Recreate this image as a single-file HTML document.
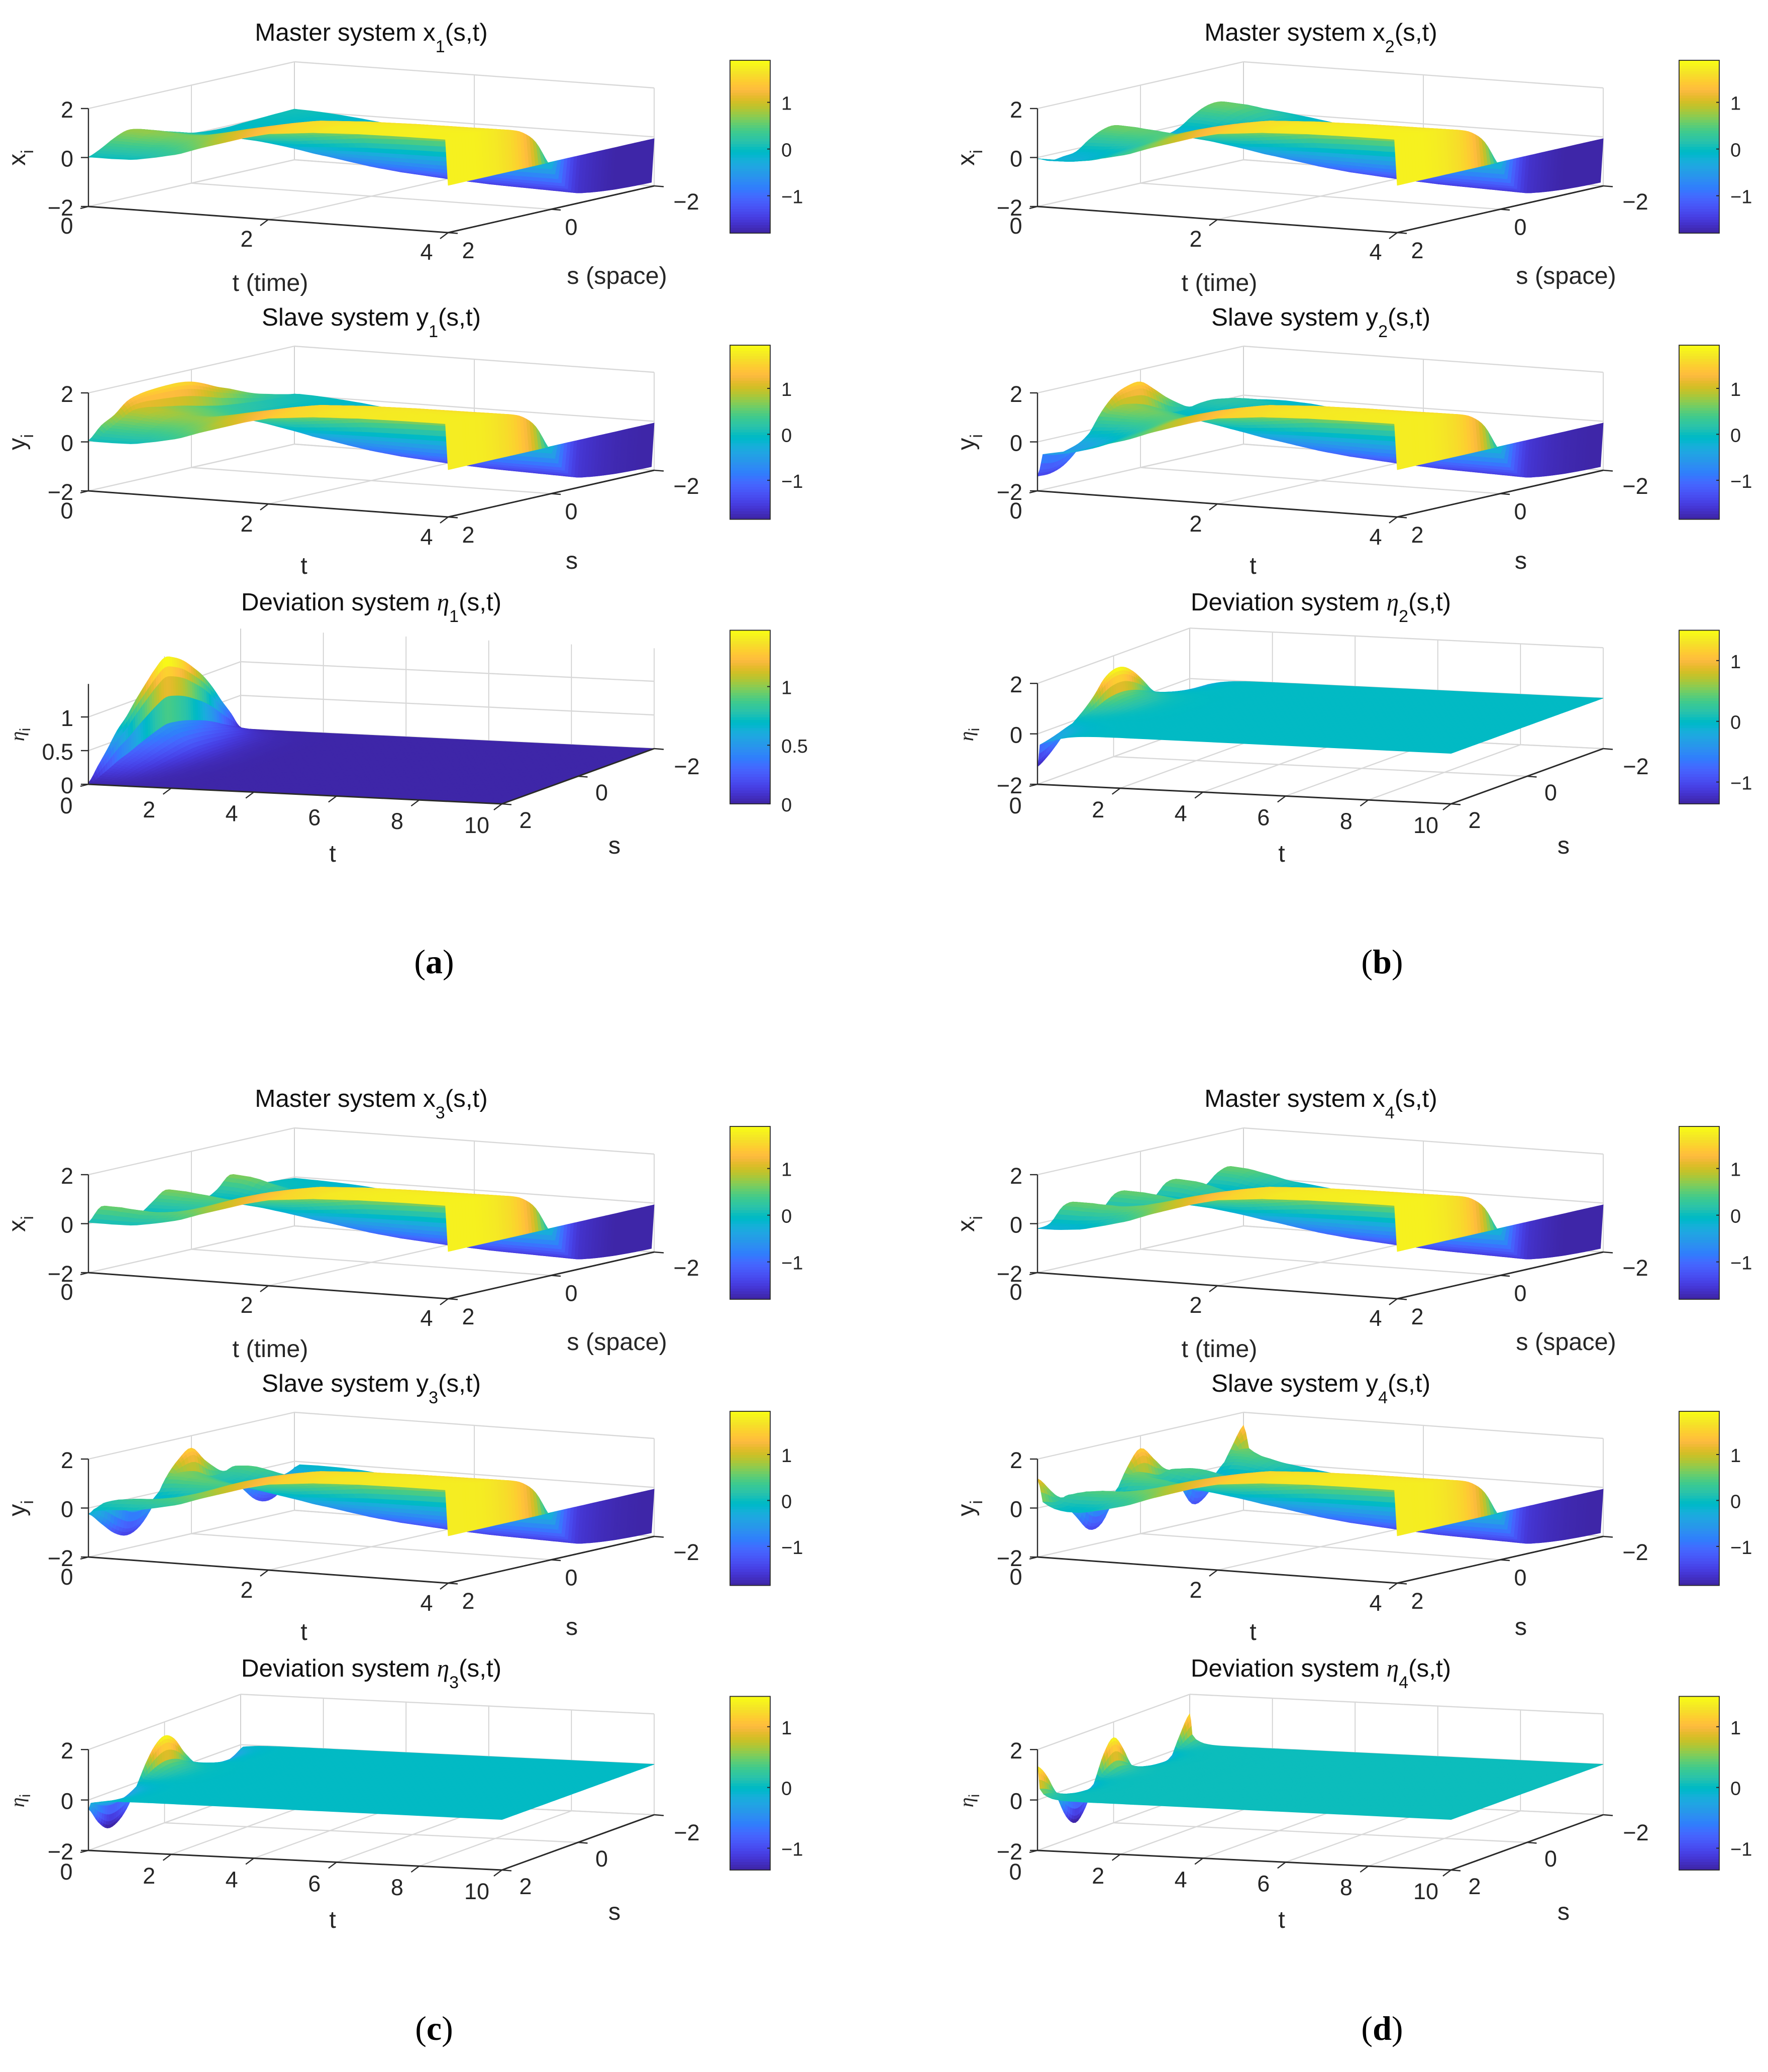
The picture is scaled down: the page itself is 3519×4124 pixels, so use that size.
<!DOCTYPE html>
<html lang="en">
<head>
<meta charset="utf-8">
<title>Master, slave and deviation system surfaces</title>
<style>
html,body{margin:0;padding:0;background:#fff;}
svg{display:block;}
text{font-family:"Liberation Sans",Arial,sans-serif;fill:#262626;}
.title{font-size:49.4px;fill:#111;text-anchor:middle;}
.lab{font-size:48.5px;text-anchor:middle;}
.eta{font-family:"Liberation Serif",serif;font-style:italic;}
.cap{font-family:"Liberation Serif",serif;font-size:68px;fill:#000;text-anchor:middle;}
.cap tspan{font-weight:bold;}
</style>
</head>
<body>
<svg id="figure" xmlns="http://www.w3.org/2000/svg" width="3519" height="4124" viewBox="0 0 3519 4124">
<rect x="0" y="0" width="3519" height="4124" fill="#fff"/>

<!-- (a) -->
<g id="x1" transform="translate(0,0)">
<text class="title" x="739" y="81">Master system x<tspan font-size="34" dy="23">1</tspan><tspan dy="-23">(s,t)</tspan></text>
<text class="lab" x="538" y="579">t (time)</text>
<text class="lab" x="1228" y="565">s (space)</text>
<text class="lab" transform="translate(50,314) rotate(-90)">x<tspan font-size="34" dy="16">i</tspan></text>
</g>
<g id="y1" transform="translate(0,0)">
<text class="title" x="739" y="648">Slave system y<tspan font-size="34" dy="23">1</tspan><tspan dy="-23">(s,t)</tspan></text>
<text class="lab" x="605" y="1142">t</text>
<text class="lab" x="1138" y="1132">s</text>
<text class="lab" transform="translate(50,880) rotate(-90)">y<tspan font-size="34" dy="16">i</tspan></text>
</g>
<g id="e1" transform="translate(0,0)">
<text class="title" x="739" y="1215">Deviation system <tspan class="eta">η</tspan><tspan font-size="34" dy="23">1</tspan><tspan dy="-23">(s,t)</tspan></text>
<text class="lab" x="662" y="1715">t</text>
<text class="lab" x="1223" y="1699">s</text>
<text class="lab" transform="translate(48,1462) rotate(-90)"><tspan class="eta" font-size="40">η</tspan><tspan font-size="30" dy="12">i</tspan></text>
</g>
<text class="cap" x="864" y="1937">(<tspan>a</tspan>)</text>

<!-- (b) -->
<g id="x2" transform="translate(1889,0)">
<text class="title" x="740" y="81">Master system x<tspan font-size="34" dy="23">2</tspan><tspan dy="-23">(s,t)</tspan></text>
<text class="lab" x="538" y="579">t (time)</text>
<text class="lab" x="1228" y="565">s (space)</text>
<text class="lab" transform="translate(50,314) rotate(-90)">x<tspan font-size="34" dy="16">i</tspan></text>
</g>
<g id="y2" transform="translate(1889,0)">
<text class="title" x="740" y="648">Slave system y<tspan font-size="34" dy="23">2</tspan><tspan dy="-23">(s,t)</tspan></text>
<text class="lab" x="605" y="1142">t</text>
<text class="lab" x="1138" y="1132">s</text>
<text class="lab" transform="translate(50,880) rotate(-90)">y<tspan font-size="34" dy="16">i</tspan></text>
</g>
<g id="e2" transform="translate(1889,0)">
<text class="title" x="740" y="1215">Deviation system <tspan class="eta">η</tspan><tspan font-size="34" dy="23">2</tspan><tspan dy="-23">(s,t)</tspan></text>
<text class="lab" x="662" y="1715">t</text>
<text class="lab" x="1223" y="1699">s</text>
<text class="lab" transform="translate(48,1462) rotate(-90)"><tspan class="eta" font-size="40">η</tspan><tspan font-size="30" dy="12">i</tspan></text>
</g>
<text class="cap" x="2751" y="1937">(<tspan>b</tspan>)</text>

<!-- (c) -->
<g id="x3" transform="translate(0,2122)">
<text class="title" x="739" y="81">Master system x<tspan font-size="34" dy="23">3</tspan><tspan dy="-23">(s,t)</tspan></text>
<text class="lab" x="538" y="579">t (time)</text>
<text class="lab" x="1228" y="565">s (space)</text>
<text class="lab" transform="translate(50,314) rotate(-90)">x<tspan font-size="34" dy="16">i</tspan></text>
</g>
<g id="y3" transform="translate(0,2122)">
<text class="title" x="739" y="648">Slave system y<tspan font-size="34" dy="23">3</tspan><tspan dy="-23">(s,t)</tspan></text>
<text class="lab" x="605" y="1142">t</text>
<text class="lab" x="1138" y="1132">s</text>
<text class="lab" transform="translate(50,880) rotate(-90)">y<tspan font-size="34" dy="16">i</tspan></text>
</g>
<g id="e3" transform="translate(0,2122)">
<text class="title" x="739" y="1215">Deviation system <tspan class="eta">η</tspan><tspan font-size="34" dy="23">3</tspan><tspan dy="-23">(s,t)</tspan></text>
<text class="lab" x="662" y="1715">t</text>
<text class="lab" x="1223" y="1699">s</text>
<text class="lab" transform="translate(48,1462) rotate(-90)"><tspan class="eta" font-size="40">η</tspan><tspan font-size="30" dy="12">i</tspan></text>
</g>
<text class="cap" x="864" y="4060">(<tspan>c</tspan>)</text>

<!-- (d) -->
<g id="x4" transform="translate(1889,2122)">
<text class="title" x="740" y="81">Master system x<tspan font-size="34" dy="23">4</tspan><tspan dy="-23">(s,t)</tspan></text>
<text class="lab" x="538" y="579">t (time)</text>
<text class="lab" x="1228" y="565">s (space)</text>
<text class="lab" transform="translate(50,314) rotate(-90)">x<tspan font-size="34" dy="16">i</tspan></text>
</g>
<g id="y4" transform="translate(1889,2122)">
<text class="title" x="740" y="648">Slave system y<tspan font-size="34" dy="23">4</tspan><tspan dy="-23">(s,t)</tspan></text>
<text class="lab" x="605" y="1142">t</text>
<text class="lab" x="1138" y="1132">s</text>
<text class="lab" transform="translate(50,880) rotate(-90)">y<tspan font-size="34" dy="16">i</tspan></text>
</g>
<g id="e4" transform="translate(1889,2122)">
<text class="title" x="740" y="1215">Deviation system <tspan class="eta">η</tspan><tspan font-size="34" dy="23">4</tspan><tspan dy="-23">(s,t)</tspan></text>
<text class="lab" x="662" y="1715">t</text>
<text class="lab" x="1223" y="1699">s</text>
<text class="lab" transform="translate(48,1462) rotate(-90)"><tspan class="eta" font-size="40">η</tspan><tspan font-size="30" dy="12">i</tspan></text>
</g>
<text class="cap" x="2751" y="4060">(<tspan>d</tspan>)</text>
</svg>

<script>
/* ---------- data ---------- */
const sGrid = [-2,-1.75,-1.5,-1.25,-1,-0.75,-0.5,-0.25,0,0.25,0.5,0.75,1,1.25,1.5,1.75,2];

const baseTimes = [0,0.25,0.5,0.75,1,1.25,1.5,1.75,2,2.5,3,3.5,3.97,4];
const baseRow000 = [0,0,0,0,0,0,0,0,0,0,0,0,0,0,0,0,0];
const baseRow025 = [-0.03,-0.03,-0.03,-0.03,-0.03,-0.03,-0.03,-0.03,-0.01,0,0,0.02,0.03,0.03,0.02,0.01,0];
const baseRow050 = [-0.08,-0.1,-0.12,-0.14,-0.15,-0.15,-0.14,-0.1,-0.04,0.03,0.08,0.12,0.15,0.14,0.12,0.08,0.03];
const baseRow075 = [-0.15,-0.18,-0.22,-0.27,-0.3,-0.3,-0.28,-0.22,-0.1,0.07,0.2,0.32,0.4,0.4,0.35,0.28,0.2];
const baseRow100 = [-0.25,-0.3,-0.38,-0.45,-0.5,-0.5,-0.48,-0.4,-0.2,0.15,0.4,0.6,0.72,0.72,0.65,0.55,0.4];
const baseRow125 = [-0.42,-0.5,-0.6,-0.68,-0.75,-0.75,-0.72,-0.6,-0.28,0.25,0.6,0.88,1.0,1.02,0.98,0.88,0.72];
const baseRow150 = [-0.65,-0.72,-0.85,-0.95,-1.0,-1.0,-0.95,-0.72,-0.25,0.4,0.8,1.08,1.22,1.26,1.22,1.12,1.0];
const baseRow175 = [-0.9,-1.0,-1.1,-1.2,-1.25,-1.22,-1.12,-0.82,-0.22,0.52,0.95,1.25,1.4,1.45,1.42,1.34,1.28];
const baseRow200 = [-1.15,-1.25,-1.32,-1.4,-1.42,-1.38,-1.22,-0.88,-0.2,0.65,1.08,1.38,1.55,1.6,1.58,1.54,1.5];
const baseRow250 = [-1.5,-1.55,-1.6,-1.62,-1.6,-1.52,-1.35,-0.96,-0.18,0.75,1.22,1.48,1.65,1.7,1.72,1.72,1.68];
const baseRow300 = [-1.72,-1.74,-1.74,-1.72,-1.68,-1.6,-1.45,-1.0,-0.17,0.8,1.3,1.54,1.68,1.75,1.77,1.77,1.76];
const baseRow350 = [-1.82,-1.82,-1.8,-1.77,-1.72,-1.65,-1.5,-1.03,-0.16,0.83,1.33,1.56,1.69,1.76,1.79,1.79,1.79];
const baseRow397 = [-1.86,-1.85,-1.83,-1.8,-1.75,-1.68,-1.55,-1.05,-0.15,0.85,1.35,1.58,1.7,1.77,1.8,1.8,1.8];
const baseRow400 = [-0.07,-0.07,-0.07,-0.07,-0.07,-0.07,-0.07,-0.07,-0.07,-0.07,-0.07,-0.07,-0.07,-0.07,-0.07,-0.07,-0.07];

const masterDecayTimes = [0,0.2,0.4,0.6,0.8,1,1.25,1.5,10];
const masterDecayValues = [1,0.95,0.75,0.5,0.3,0.15,0.05,0,0];
const deviationDecayTimes = [0,0.012,0.025,0.04,0.06,0.15,0.3,0.5,0.75,1,1.25,1.5,2,2.5,10];
const deviationDecayMode1 = [1,0.9,0.8,0.6,0.33,0.3,0.26,0.19,0.11,0.065,0.035,0.018,0.004,0,0];
const deviationDecayMode2 = [1,0.9,0.8,0.6,0.33,0.28,0.21,0.13,0.065,0.03,0.014,0.005,0,0,0];
const deviationDecayMode3 = [1,0.9,0.8,0.6,0.33,0.25,0.15,0.075,0.03,0.01,0.003,0,0,0,0];
const deviationDecayMode4 = [1,0.9,0.8,0.6,0.33,0.18,0.07,0.025,0.007,0.002,0,0,0,0,0];

const x1Initial = [0.07,0.05,0.03,0,-0.02,-0.05,-0.05,-0.02,0.05,0.2,0.35,0.5,0.68,0.75,0.55,0.25,0.02];
const x2Initial = [0.19,0.45,0.6,0.52,0.25,-0.1,-0.25,-0.1,0.12,0.38,0.6,0.52,0.25,-0.12,-0.2,-0.25,-0.05];
const x3Initial = [-0.05,0,0.03,0.1,0.42,0.68,0.2,-0.06,0.08,0.42,0.66,0.3,-0.06,-0.04,0.32,0.58,0.05];
const x4Initial = [0.1,0.55,0.42,0,0.05,0.5,0.48,-0.02,0.02,0.5,0.5,0,0.02,0.52,0.48,-0.1,-0.2];

const y1Initial = [0.05,0.15,0.28,0.42,0.62,0.85,1.05,1.3,1.5,1.58,1.58,1.55,1.48,1.3,0.85,0.55,0.05];
const y2Initial = [-0.9,-1.05,-0.85,-0.5,-0.1,0.25,0.63,1.1,1.5,1.45,1.2,0.65,-0.15,-0.75,-1.2,-1.4,-1.4];
const y3Initial = [-0.25,-1.05,-1.35,-1.2,-0.65,-0.05,0.4,0.9,1.5,1.15,0.5,-0.5,-1.2,-1.46,-1.25,-0.75,-0.24];
const y4Initial = [1.47,0.6,-0.35,-1.1,-1.25,-0.35,0.3,0.95,1.48,0.85,-0.2,-1.2,-1.35,-0.7,-0.02,0.6,1.2];

const eta1Initial = [0.02,0.28,0.52,0.78,1.0,1.17,1.32,1.42,1.47,1.35,1.18,1.0,0.8,0.64,0.42,0.22,0.02];
const eta2Initial = [-1.3,-1.15,-0.85,-0.4,0.1,0.65,1.12,1.42,1.45,1.22,0.72,0.32,0,-0.3,-0.7,-1.05,-1.3];
const eta3Initial = [-0.25,-0.95,-1.35,-1.4,-1.1,-0.05,0.55,1.2,1.45,1.2,0.6,-0.2,-0.9,-1.3,-1.39,-1.0,-0.36];
const eta4Initial = [1.23,0.55,-0.3,-1.1,-1.4,-1.05,-0.2,0.8,1.38,0.9,-0.1,-1.0,-1.44,-1.05,-0.1,0.8,1.33];

const zTicksWide = [-2,0,2];
const zTicksEta1 = [0,0.5,1];
const tTicksMasterSlave = [0,2,4];
const tTicksDeviation = [0,2,4,6,8,10];
const sTicks = [-2,0,2];
const colorbarTicksWide = [-1,0,1];
const colorbarTicksEta1 = [0,0.5,1];

const baseSurface = [baseRow000,baseRow025,baseRow050,baseRow075,baseRow100,baseRow125,baseRow150,baseRow175,baseRow200,baseRow250,baseRow300,baseRow350,baseRow397,baseRow400];

const parula = [[.2422,.1504,.6603],[.2504,.165,.7076],[.2578,.1818,.7511],[.2647,.1978,.7952],[.2706,.2147,.8364],[.2751,.2342,.871],[.2783,.2559,.8991],[.2803,.2782,.9221],[.2813,.3006,.9414],[.281,.3228,.9579],[.2795,.3447,.9717],[.276,.3667,.9829],[.2699,.3892,.9906],[.2602,.4123,.9952],[.244,.4358,.9988],[.2206,.4603,.9973],[.1963,.4847,.9892],[.1834,.5074,.9798],[.1786,.5289,.9682],[.1764,.5499,.952],[.1687,.5703,.9359],[.154,.5902,.9218],[.146,.6091,.9079],[.138,.6276,.8973],[.1248,.6459,.8883],[.1113,.6635,.8763],[.0952,.6798,.8598],[.0689,.6948,.8394],[.0297,.7082,.8163],[.0036,.7203,.7917],[.0067,.7312,.766],[.0433,.7411,.7394],[.0964,.75,.712],[.1408,.7584,.6842],[.1717,.767,.6554],[.1938,.7758,.6251],[.2161,.7843,.5923],[.247,.7918,.5567],[.2906,.7973,.5188],[.3406,.8008,.4789],[.3909,.8029,.4354],[.4456,.8024,.3909],[.5044,.7993,.348],[.5616,.7942,.3045],[.6174,.7876,.2612],[.672,.7793,.2227],[.7242,.7698,.191],[.7738,.7598,.1646],[.8203,.7498,.1535],[.8634,.7406,.1596],[.9035,.733,.1774],[.9393,.7288,.21],[.9728,.7298,.2394],[.9956,.7434,.2371],[.997,.7659,.2199],[.9952,.7893,.2028],[.9892,.8136,.1885],[.9786,.8386,.1766],[.9676,.8639,.1643],[.961,.889,.1537],[.9597,.9135,.1423],[.9628,.9373,.1265],[.9691,.9606,.1064],[.9769,.9839,.0805]];

/* ---------- axis geometry per plot family ---------- */
const SVGNS = 'http://www.w3.org/2000/svg';
const geometry = {
  x: {ox:176,oy:411,tx:716,ty:52,sx:410,sy:-93,tMax:4,zMin:-2,zMax:2,zs:48.75,cbTop:120,cbBot:464,cMin:-1.8,cMax:1.9,tOff:[-43,38],sOff:[40,35],negOff:[24,-4]},
  y: {ox:176,oy:977,tx:716,ty:52,sx:410,sy:-93,tMax:4,zMin:-2,zMax:2,zs:48.75,cbTop:687,cbBot:1033.6,cMin:-1.85,cMax:1.94,tOff:[-43,39],sOff:[40,35],negOff:[24,-4]},
  e: {ox:176,oy:1561,tx:823,ty:39,sx:303,sy:-110,tMax:10,zMin:-2,zMax:2,zs:50.2,cbTop:1254.4,cbBot:1600,cMin:-1.36,cMax:1.5,tOff:[-44,42],sOff:[47,32],negOff:[18,3]}
};
const panels = [
  {id:'x1',kind:'x',master:x1Initial},
  {id:'x2',kind:'x',master:x2Initial},
  {id:'x3',kind:'x',master:x3Initial},
  {id:'x4',kind:'x',master:x4Initial},
  {id:'y1',kind:'y',master:x1Initial,slave:y1Initial,decay:deviationDecayMode1},
  {id:'y2',kind:'y',master:x2Initial,slave:y2Initial,decay:deviationDecayMode2},
  {id:'y3',kind:'y',master:x3Initial,slave:y3Initial,decay:deviationDecayMode3},
  {id:'y4',kind:'y',master:x4Initial,slave:y4Initial,decay:deviationDecayMode4},
  {id:'e1',kind:'e',eta:eta1Initial,decay:deviationDecayMode1,zMin:0,zMax:1.49,zs:134,cMin:0,cMax:1.48,zTicks:zTicksEta1,cbTicks:colorbarTicksEta1},
  {id:'e2',kind:'e',eta:eta2Initial,decay:deviationDecayMode2},
  {id:'e3',kind:'e',eta:eta3Initial,decay:deviationDecayMode3},
  {id:'e4',kind:'e',eta:eta4Initial,decay:deviationDecayMode4,surfaceMin:-1.4,surfaceMax:1.44}
];

/* ---------- helpers ---------- */
function table(times,values,t){
  if(t<=times[0]) return values[0];
  for(let i=1;i<times.length;i++){
    if(t<=times[i]){
      const f=(t-times[i-1])/(times[i]-times[i-1]);
      return values[i-1]+(values[i]-values[i-1])*f;
    }
  }
  return values[values.length-1];
}
function baseAt(t,j){
  return table(baseTimes,baseSurface.map(function(r){return r[j];}),t);
}
function rowAt(p,t){
  const out=[];
  for(let j=0;j<sGrid.length;j++){
    if(p.kind==='x'){
      out.push(baseAt(t,j)+p.master[j]*table(masterDecayTimes,masterDecayValues,t));
    }else if(p.kind==='y'){
      out.push(baseAt(t,j)+p.master[j]*table(masterDecayTimes,masterDecayValues,t)+(p.slave[j]-p.master[j])*table(deviationDecayTimes,p.decay,t));
    }else{
      out.push(p.eta[j]*table(deviationDecayTimes,p.decay,t));
    }
  }
  return out;
}
function refine(row,sub){
  const out=[];const n=row.length;
  for(let j=0;j<n-1;j++){
    const a=row[Math.max(j-1,0)],b=row[j],c=row[j+1],d=row[Math.min(j+2,n-1)];
    for(let k=0;k<sub;k++){
      const u=k/sub;
      out.push(0.5*((2*b)+(c-a)*u+(2*a-5*b+4*c-d)*u*u+(3*b-a-3*c+d)*u*u*u));
    }
  }
  out.push(row[n-1]);
  return out;
}
function timeSamples(kind){
  const ts=[0,0.012,0.025,0.04,0.06];
  if(kind==='e'){
    for(let t=0.15;t<2.6;t+=0.1) ts.push(t);
    ts.push(10);
  }else{
    for(let t=0.12;t<3.92;t+=0.07) ts.push(t);
    ts.push(3.97);
    ts.push(4);
  }
  return ts;
}
function colourOf(v,cMin,cMax){
  let f=(v-cMin)/(cMax-cMin)*63;
  f=Math.max(0,Math.min(63,f));
  const i=Math.min(62,Math.floor(f)),u=f-i;
  const a=parula[i],b=parula[i+1];
  return 'rgb('+Math.round((a[0]+(b[0]-a[0])*u)*255)+','+Math.round((a[1]+(b[1]-a[1])*u)*255)+','+Math.round((a[2]+(b[2]-a[2])*u)*255)+')';
}
function makeLine(x1,y1,x2,y2,stroke,width){
  const l=document.createElementNS(SVGNS,'line');
  l.setAttribute('x1',x1.toFixed(1));
  l.setAttribute('y1',y1.toFixed(1));
  l.setAttribute('x2',x2.toFixed(1));
  l.setAttribute('y2',y2.toFixed(1));
  l.setAttribute('stroke',stroke);
  l.setAttribute('stroke-width',width);
  return l;
}
function makeText(str,x,y,size,anchor){
  const t=document.createElementNS(SVGNS,'text');
  t.setAttribute('x',x.toFixed(1));
  t.setAttribute('y',y.toFixed(1));
  t.setAttribute('font-size',size);
  t.setAttribute('text-anchor',anchor);
  t.textContent=str;
  return t;
}
function label(v){
  return (v<0?'\u2212':'')+Math.abs(v);
}

/* ---------- drawing ---------- */
function drawPanel(p){
  const g=document.getElementById(p.id);
  const base=geometry[p.kind];
  const zMin=p.zMin!==undefined?p.zMin:base.zMin;
  const zMax=p.zMax!==undefined?p.zMax:base.zMax;
  const zs=p.zs!==undefined?p.zs:base.zs;
  const cMin=p.cMin!==undefined?p.cMin:base.cMin;
  const cMax=p.cMax!==undefined?p.cMax:base.cMax;
  const surfMin=p.surfaceMin!==undefined?p.surfaceMin:cMin;
  const surfMax=p.surfaceMax!==undefined?p.surfaceMax:cMax;
  const zTicks=p.zTicks||zTicksWide;
  const cbTicks=p.cbTicks||colorbarTicksWide;
  const tTicks=p.kind==='e'?tTicksDeviation:tTicksMasterSlave;
  const X=function(t,s){return base.ox+base.tx*t/base.tMax+base.sx*(2-s)/4;};
  const Y=function(t,s,z){return base.oy+base.ty*t/base.tMax+base.sy*(2-s)/4-(z-zMin)*zs;};
  const frag=document.createDocumentFragment();
  const gridColour='#d8d8d8',wallColour='#cccccc',axisColour='#2a2a2a';

  /* floor and wall grid */
  tTicks.forEach(function(t){
    const a=makeLine(X(t,2),Y(t,2,zMin),X(t,-2),Y(t,-2,zMin),gridColour,2.4);
    
    
    frag.appendChild(a);
    const b=makeLine(X(t,-2),Y(t,-2,zMin),X(t,-2),Y(t,-2,zMax),wallColour,1.6);
    
    
    frag.appendChild(b);
  });
  sTicks.forEach(function(s){
    const a=makeLine(X(0,s),Y(0,s,zMin),X(base.tMax,s),Y(base.tMax,s,zMin),gridColour,2.4);
    
    
    frag.appendChild(a);
    const b=makeLine(X(0,s),Y(0,s,zMin),X(0,s),Y(0,s,zMax),wallColour,1.6);
    
    
    frag.appendChild(b);
  });
  zTicks.forEach(function(z){
    const a=makeLine(X(0,2),Y(0,2,z),X(0,-2),Y(0,-2,z),gridColour,2.4);
    
    
    frag.appendChild(a);
    const b=makeLine(X(0,-2),Y(0,-2,z),X(base.tMax,-2),Y(base.tMax,-2,z),gridColour,2.4);
    
    
    frag.appendChild(b);
  });

  /* surface, painted back to front */
  const ts=timeSamples(p.kind);
  const sub=4;
  const sFine=[];
  for(let j=0;j<sGrid.length-1;j++){
    for(let k=0;k<sub;k++) sFine.push(sGrid[j]+(sGrid[j+1]-sGrid[j])*k/sub);
  }
  sFine.push(sGrid[sGrid.length-1]);
  const rows=ts.map(function(t){return refine(rowAt(p,t),sub);});
  const surface=document.createElementNS(SVGNS,'g');
  
  
  for(let i=0;i<ts.length-1;i++){
    const t0=ts[i],t1=ts[i+1],r0=rows[i],r1=rows[i+1];
    for(let j=0;j<sFine.length-1;j++){
      const s0=sFine[j],s1=sFine[j+1];
      const col=colourOf((r0[j]+r0[j+1])/2,surfMin,surfMax);
      const poly=document.createElementNS(SVGNS,'polygon');
      poly.setAttribute('points',
        X(t0,s0).toFixed(1)+','+Y(t0,s0,r0[j]).toFixed(1)+' '+
        X(t0,s1).toFixed(1)+','+Y(t0,s1,r0[j+1]).toFixed(1)+' '+
        X(t1,s1).toFixed(1)+','+Y(t1,s1,r1[j+1]).toFixed(1)+' '+
        X(t1,s0).toFixed(1)+','+Y(t1,s0,r1[j]).toFixed(1));
      poly.setAttribute('fill',col);
      poly.setAttribute('stroke',col);
      poly.setAttribute('stroke-width','0.9');
      poly.setAttribute('stroke-linejoin','round');
      
      
      surface.appendChild(poly);
    }
  }
  frag.appendChild(surface);

  /* axes */
  const zAxis=makeLine(X(0,2),Y(0,2,zMin),X(0,2),Y(0,2,zMax),axisColour,2.4);
  
  
  frag.appendChild(zAxis);
  const tAxis=makeLine(X(0,2),Y(0,2,zMin),X(base.tMax,2),Y(base.tMax,2,zMin),axisColour,3);
  
  
  frag.appendChild(tAxis);
  const sAxis=makeLine(X(base.tMax,2),Y(base.tMax,2,zMin),X(base.tMax,-2),Y(base.tMax,-2,zMin),axisColour,3);
  
  
  frag.appendChild(sAxis);

  zTicks.forEach(function(z){
    const x=X(0,2),y=Y(0,2,z);
    const tick=makeLine(x-15,y,x,y,axisColour,2.4);
    
    
    frag.appendChild(tick);
    const txt=makeText(label(z),146,y+18,45,'end');
    
    
    frag.appendChild(txt);
  });
  tTicks.forEach(function(t){
    const x=X(t,2),y=Y(t,2,zMin);
    const tick=makeLine(x,y,x-16,y+4+8*(t===0?0:1),axisColour,2.4);
    
    
    frag.appendChild(tick);
    const extra=t>=10?-6:0;
    const txt=makeText(String(t),x+base.tOff[0]+extra,y+base.tOff[1]+16,45,'middle');
    
    
    frag.appendChild(txt);
  });
  sTicks.forEach(function(s){
    const x=X(base.tMax,s),y=Y(base.tMax,s,zMin);
    const tick=makeLine(x,y,x+19,y+1.5,axisColour,2.4);
    
    
    frag.appendChild(tick);
    const neg=s<0;
    const txt=makeText(label(s),x+base.sOff[0]+(neg?base.negOff[0]:0),y+base.sOff[1]+(neg?base.negOff[1]:0)+16,45,'middle');
    
    
    frag.appendChild(txt);
  });

  /* colorbar */
  const cbLeft=1453,cbRight=1533;
  const cbHeight=base.cbBot-base.cbTop;
  parula.forEach(function(c,i){
    const r=document.createElementNS(SVGNS,'rect');
    const h=cbHeight/parula.length;
    r.setAttribute('x',cbLeft);
    r.setAttribute('y',(base.cbBot-(i+1)*h-0.3).toFixed(2));
    r.setAttribute('width',cbRight-cbLeft);
    r.setAttribute('height',(h+0.6).toFixed(2));
    r.setAttribute('fill','rgb('+Math.round(c[0]*255)+','+Math.round(c[1]*255)+','+Math.round(c[2]*255)+')');
    
    
    frag.appendChild(r);
  });
  const frame=document.createElementNS(SVGNS,'rect');
  frame.setAttribute('x',cbLeft);
  frame.setAttribute('y',base.cbTop);
  frame.setAttribute('width',cbRight-cbLeft);
  frame.setAttribute('height',cbHeight);
  frame.setAttribute('fill','none');
  frame.setAttribute('stroke','#262626');
  frame.setAttribute('stroke-width','1.8');
  
  
  frag.appendChild(frame);
  cbTicks.forEach(function(v){
    const y=base.cbBot-(v-cMin)/(cMax-cMin)*cbHeight;
    const tick=makeLine(cbRight-6,y,cbRight,y,'#262626',2);
    
    
    frag.appendChild(tick);
    const txt=makeText(label(v),1555,y+15,38,'start');
    
    
    frag.appendChild(txt);
  });

  g.appendChild(frag);
}
panels.forEach(drawPanel);
</script>
</body>
</html>
